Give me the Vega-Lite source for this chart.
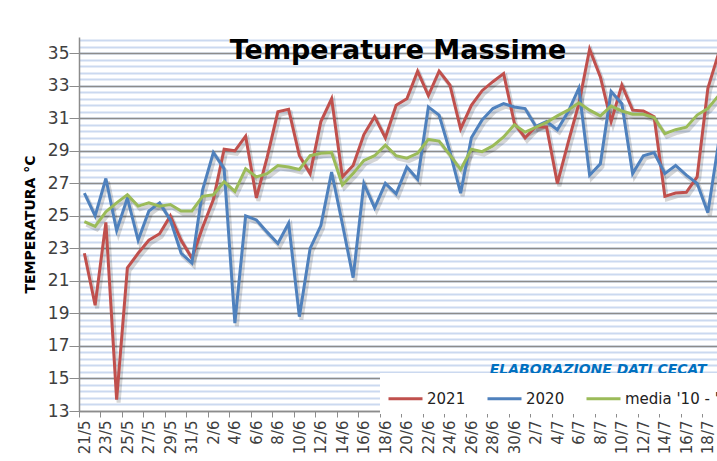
{
  "$schema": "https://vega.github.io/schema/vega-lite/v6.json",
  "width": 638,
  "height": 374,
  "autosize": {"type": "none"},
  "padding": {"left": 79, "top": 37, "right": 0, "bottom": 50},
  "background": "white",
  "config": {"view": {"stroke": null}, "font": "DejaVu Sans"},
  "title": {"text": "Temperature Massime", "fontSize": 27, "fontWeight": "bold", "font": "DejaVu Sans", "color": "#000000", "anchor": "middle", "frame": "group", "offset": -49, "baseline": "alphabetic"},
  "datasets": {
    "temps": [
      {"d":0,"s":"2021","t":22.7},{"d":1,"s":"2021","t":19.5},{"d":2,"s":"2021","t":24.6},{"d":3,"s":"2021","t":13.7},{"d":4,"s":"2021","t":21.8},{"d":5,"s":"2021","t":22.7},{"d":6,"s":"2021","t":23.5},{"d":7,"s":"2021","t":23.9},{"d":8,"s":"2021","t":25.0},{"d":9,"s":"2021","t":23.5},
      {"d":10,"s":"2021","t":22.4},{"d":11,"s":"2021","t":24.3},{"d":12,"s":"2021","t":26.0},{"d":13,"s":"2021","t":29.1},{"d":14,"s":"2021","t":29.0},{"d":15,"s":"2021","t":29.9},{"d":16,"s":"2021","t":26.1},{"d":17,"s":"2021","t":28.6},{"d":18,"s":"2021","t":31.4},{"d":19,"s":"2021","t":31.55},
      {"d":20,"s":"2021","t":28.7},{"d":21,"s":"2021","t":27.6},{"d":22,"s":"2021","t":30.8},{"d":23,"s":"2021","t":32.2},{"d":24,"s":"2021","t":27.4},{"d":25,"s":"2021","t":28.1},{"d":26,"s":"2021","t":30.0},{"d":27,"s":"2021","t":31.1},{"d":28,"s":"2021","t":29.8},{"d":29,"s":"2021","t":31.8},
      {"d":30,"s":"2021","t":32.2},{"d":31,"s":"2021","t":33.9},{"d":32,"s":"2021","t":32.4},{"d":33,"s":"2021","t":33.9},{"d":34,"s":"2021","t":33.05},{"d":35,"s":"2021","t":30.35},{"d":36,"s":"2021","t":31.8},{"d":37,"s":"2021","t":32.7},{"d":38,"s":"2021","t":33.25},{"d":39,"s":"2021","t":33.75},
      {"d":40,"s":"2021","t":30.7},{"d":41,"s":"2021","t":29.8},{"d":42,"s":"2021","t":30.5},{"d":43,"s":"2021","t":30.45},{"d":44,"s":"2021","t":27.0},{"d":45,"s":"2021","t":29.5},{"d":46,"s":"2021","t":31.9},{"d":47,"s":"2021","t":35.25},{"d":48,"s":"2021","t":33.55},{"d":49,"s":"2021","t":30.8},
      {"d":50,"s":"2021","t":33.05},{"d":51,"s":"2021","t":31.5},{"d":52,"s":"2021","t":31.45},{"d":53,"s":"2021","t":31.1},{"d":54,"s":"2021","t":26.2},{"d":55,"s":"2021","t":26.4},{"d":56,"s":"2021","t":26.45},{"d":57,"s":"2021","t":27.4},{"d":58,"s":"2021","t":32.85},{"d":59,"s":"2021","t":35.0},
      {"d":0,"s":"2020","t":26.4},{"d":1,"s":"2020","t":25.0},{"d":2,"s":"2020","t":27.3},{"d":3,"s":"2020","t":24.1},{"d":4,"s":"2020","t":26.1},{"d":5,"s":"2020","t":23.5},{"d":6,"s":"2020","t":25.3},{"d":7,"s":"2020","t":25.8},{"d":8,"s":"2020","t":24.75},{"d":9,"s":"2020","t":22.7},
      {"d":10,"s":"2020","t":22.1},{"d":11,"s":"2020","t":26.6},{"d":12,"s":"2020","t":28.9},{"d":13,"s":"2020","t":27.9},{"d":14,"s":"2020","t":18.4},{"d":15,"s":"2020","t":25.0},{"d":16,"s":"2020","t":24.75},{"d":17,"s":"2020","t":24.0},{"d":18,"s":"2020","t":23.3},{"d":19,"s":"2020","t":24.55},
      {"d":20,"s":"2020","t":18.8},{"d":21,"s":"2020","t":23.0},{"d":22,"s":"2020","t":24.4},{"d":23,"s":"2020","t":27.7},{"d":24,"s":"2020","t":24.5},{"d":25,"s":"2020","t":21.2},{"d":26,"s":"2020","t":27.0},{"d":27,"s":"2020","t":25.5},{"d":28,"s":"2020","t":27.0},{"d":29,"s":"2020","t":26.35},
      {"d":30,"s":"2020","t":28.0},{"d":31,"s":"2020","t":27.25},{"d":32,"s":"2020","t":31.7},{"d":33,"s":"2020","t":31.2},{"d":34,"s":"2020","t":28.95},{"d":35,"s":"2020","t":26.4},{"d":36,"s":"2020","t":29.8},{"d":37,"s":"2020","t":30.9},{"d":38,"s":"2020","t":31.6},{"d":39,"s":"2020","t":31.9},
      {"d":40,"s":"2020","t":31.7},{"d":41,"s":"2020","t":31.6},{"d":42,"s":"2020","t":30.5},{"d":43,"s":"2020","t":30.8},{"d":44,"s":"2020","t":30.3},{"d":45,"s":"2020","t":31.4},{"d":46,"s":"2020","t":32.85},{"d":47,"s":"2020","t":27.5},{"d":48,"s":"2020","t":28.2},{"d":49,"s":"2020","t":32.65},
      {"d":50,"s":"2020","t":31.9},{"d":51,"s":"2020","t":27.6},{"d":52,"s":"2020","t":28.7},{"d":53,"s":"2020","t":28.9},{"d":54,"s":"2020","t":27.6},{"d":55,"s":"2020","t":28.1},{"d":56,"s":"2020","t":27.5},{"d":57,"s":"2020","t":27.0},{"d":58,"s":"2020","t":25.2},{"d":59,"s":"2020","t":29.5},
      {"d":0,"s":"media '10 - '20","t":24.65},{"d":1,"s":"media '10 - '20","t":24.35},{"d":2,"s":"media '10 - '20","t":25.25},{"d":3,"s":"media '10 - '20","t":25.8},{"d":4,"s":"media '10 - '20","t":26.3},{"d":5,"s":"media '10 - '20","t":25.6},{"d":6,"s":"media '10 - '20","t":25.8},{"d":7,"s":"media '10 - '20","t":25.6},{"d":8,"s":"media '10 - '20","t":25.7},{"d":9,"s":"media '10 - '20","t":25.3},
      {"d":10,"s":"media '10 - '20","t":25.3},{"d":11,"s":"media '10 - '20","t":26.2},{"d":12,"s":"media '10 - '20","t":26.3},{"d":13,"s":"media '10 - '20","t":27.1},{"d":14,"s":"media '10 - '20","t":26.5},{"d":15,"s":"media '10 - '20","t":27.9},{"d":16,"s":"media '10 - '20","t":27.4},{"d":17,"s":"media '10 - '20","t":27.6},{"d":18,"s":"media '10 - '20","t":28.1},{"d":19,"s":"media '10 - '20","t":28.0},
      {"d":20,"s":"media '10 - '20","t":27.85},{"d":21,"s":"media '10 - '20","t":28.7},{"d":22,"s":"media '10 - '20","t":28.85},{"d":23,"s":"media '10 - '20","t":28.9},{"d":24,"s":"media '10 - '20","t":26.9},{"d":25,"s":"media '10 - '20","t":27.6},{"d":26,"s":"media '10 - '20","t":28.4},{"d":27,"s":"media '10 - '20","t":28.7},{"d":28,"s":"media '10 - '20","t":29.35},{"d":29,"s":"media '10 - '20","t":28.7},
      {"d":30,"s":"media '10 - '20","t":28.55},{"d":31,"s":"media '10 - '20","t":28.85},{"d":32,"s":"media '10 - '20","t":29.7},{"d":33,"s":"media '10 - '20","t":29.6},{"d":34,"s":"media '10 - '20","t":28.75},{"d":35,"s":"media '10 - '20","t":27.85},{"d":36,"s":"media '10 - '20","t":29.1},{"d":37,"s":"media '10 - '20","t":28.95},{"d":38,"s":"media '10 - '20","t":29.3},{"d":39,"s":"media '10 - '20","t":29.85},
      {"d":40,"s":"media '10 - '20","t":30.6},{"d":41,"s":"media '10 - '20","t":30.15},{"d":42,"s":"media '10 - '20","t":30.45},{"d":43,"s":"media '10 - '20","t":30.75},{"d":44,"s":"media '10 - '20","t":31.15},{"d":45,"s":"media '10 - '20","t":31.5},{"d":46,"s":"media '10 - '20","t":31.95},{"d":47,"s":"media '10 - '20","t":31.5},{"d":48,"s":"media '10 - '20","t":31.15},{"d":49,"s":"media '10 - '20","t":31.75},
      {"d":50,"s":"media '10 - '20","t":31.45},{"d":51,"s":"media '10 - '20","t":31.25},{"d":52,"s":"media '10 - '20","t":31.25},{"d":53,"s":"media '10 - '20","t":31.05},{"d":54,"s":"media '10 - '20","t":30.05},{"d":55,"s":"media '10 - '20","t":30.3},{"d":56,"s":"media '10 - '20","t":30.45},{"d":57,"s":"media '10 - '20","t":31.2},{"d":58,"s":"media '10 - '20","t":31.6},{"d":59,"s":"media '10 - '20","t":32.4}
    ],
    "notes": [
      {"d": 47.8, "t": 15.53, "label": "ELABORAZIONE DATI CECAT"}
    ]
  },
  "resolve": {"axis": {"y": "independent"}},
  "layer": [
    {
      "data": {"name": "temps"},
      "mark": {"type": "line", "color": "#000000", "opacity": 0.16, "strokeWidth": 4, "xOffset": 2, "yOffset": 3, "clip": true},
      "encoding": {
        "x": {"field": "d", "type": "quantitative", "scale": {"domain": [-0.5, 58.85], "nice": false, "zero": false},
          "axis": {"values": [0,2,4,6,8,10,12,14,16,18,20,22,24,26,28,30,32,34,36,38,40,42,44,46,48,50,52,54,56,58], "labelExpr": "timeFormat(datetime(2021, 4, 21 + datum.value), '%-d/%-m')", "tickOffset": -5.375, "labelOffset": 5.375, "labelAngle": 270, "labelFontSize": 15, "labelColor": "#404040", "labelPadding": 3, "labelOverlap": false, "labelFlush": false, "labelBound": false, "tickSize": 6, "tickColor": "#8C8C8C", "domainColor": "#8C8C8C", "domainWidth": 1.5, "grid": false, "title": null}},
        "y": {"field": "t", "type": "quantitative", "scale": {"domain": [13, 36], "nice": false, "zero": false},
          "axis": {"orient": "left", "values": [13.4,13.8,14.2,14.6,15,15.4,15.8,16.2,16.6,17,17.4,17.8,18.2,18.6,19,19.4,19.8,20.2,20.6,21,21.4,21.8,22.2,22.6,23,23.4,23.8,24.2,24.6,25,25.4,25.8,26.2,26.6,27,27.4,27.8,28.2,28.6,29,29.4,29.8,30.2,30.6,31,31.4,31.8,32.2,32.6,33,33.4,33.8,34.2,34.6,35,35.4,35.8], "grid": true, "gridColor": "#CBD9F0", "gridWidth": 2, "labels": false, "ticks": false, "domain": false, "title": null}},
        "detail": {"field": "s"}
      }
    },
    {
      "data": {"name": "temps"},
      "mark": {"type": "line", "strokeWidth": 3, "clip": true},
      "encoding": {
        "x": {"field": "d", "type": "quantitative", "scale": {"domain": [-0.5, 58.85], "nice": false, "zero": false},
          "axis": {"values": [0,2,4,6,8,10,12,14,16,18,20,22,24,26,28,30,32,34,36,38,40,42,44,46,48,50,52,54,56,58], "labelExpr": "timeFormat(datetime(2021, 4, 21 + datum.value), '%-d/%-m')", "tickOffset": -5.375, "labelOffset": 5.375, "labelAngle": 270, "labelFontSize": 15, "labelColor": "#404040", "labelPadding": 3, "labelOverlap": false, "labelFlush": false, "labelBound": false, "tickSize": 6, "tickColor": "#8C8C8C", "domainColor": "#8C8C8C", "domainWidth": 1.5, "grid": false, "title": null}},
        "y": {"field": "t", "type": "quantitative", "scale": {"domain": [13, 36], "nice": false, "zero": false},
          "axis": {"orient": "left", "values": [13,15,17,19,21,23,25,27,29,31,33,35], "grid": true, "gridColor": "#8C8C8C", "gridWidth": 1.3, "tickSize": 10, "tickColor": "#8C8C8C", "domainColor": "#8C8C8C", "domainWidth": 1.5, "labelFontSize": 17, "labelColor": "#404040", "labelPadding": 0, "title": "TEMPERATURA °C", "titleFontSize": 14, "titleFontWeight": "bold", "titleColor": "#000000", "titleAngle": 270, "titleX": -49, "titleY": 187, "titleAlign": "center", "titleBaseline": "middle"}},
        "color": {"field": "s", "type": "nominal", "scale": {"domain": ["2021", "2020", "media '10 - '20"], "range": ["#C0504D", "#4F81BD", "#9BBB59"]},
          "legend": {"orient": "none", "legendX": 301, "legendY": 336, "direction": "horizontal", "fillColor": "white", "padding": 7, "symbolType": "stroke", "symbolSize": 1156, "symbolStrokeWidth": 3, "labelFontSize": 15, "labelColor": "#222222", "labelOffset": 3, "columnPadding": 15, "title": null}}
      }
    },
    {
      "data": {"name": "notes"},
      "mark": {"type": "text", "fontSize": 14, "fontWeight": "bold", "fontStyle": "italic", "color": "#0070C0", "align": "center", "baseline": "middle"},
      "encoding": {
        "x": {"field": "d", "type": "quantitative", "scale": {"domain": [-0.5, 58.85], "nice": false, "zero": false},
          "axis": {"values": [0,2,4,6,8,10,12,14,16,18,20,22,24,26,28,30,32,34,36,38,40,42,44,46,48,50,52,54,56,58], "labelExpr": "timeFormat(datetime(2021, 4, 21 + datum.value), '%-d/%-m')", "tickOffset": -5.375, "labelOffset": 5.375, "labelAngle": 270, "labelFontSize": 15, "labelColor": "#404040", "labelPadding": 3, "labelOverlap": false, "labelFlush": false, "labelBound": false, "tickSize": 6, "tickColor": "#8C8C8C", "domainColor": "#8C8C8C", "domainWidth": 1.5, "grid": false, "title": null}},
        "y": {"field": "t", "type": "quantitative", "scale": {"domain": [13, 36], "nice": false, "zero": false}, "axis": null},
        "text": {"field": "label"}
      }
    }
  ]
}
